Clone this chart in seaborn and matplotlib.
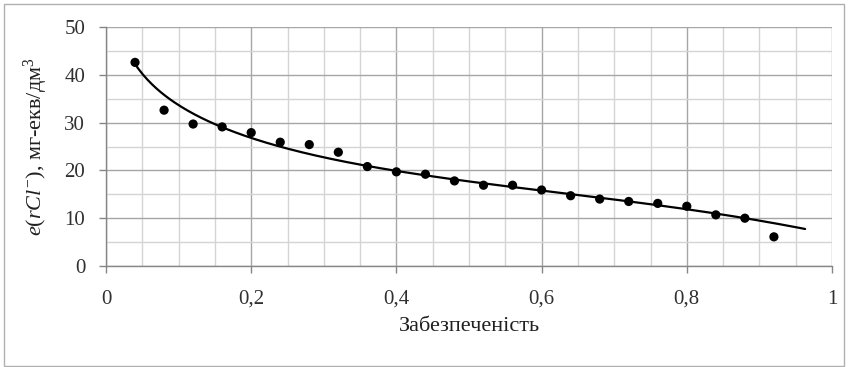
import numpy as np
import pandas as pd
import matplotlib
matplotlib.use("Agg")
import matplotlib.pyplot as plt
import seaborn as sns
from matplotlib.ticker import MultipleLocator, FuncFormatter
from matplotlib.patches import Rectangle

supply = [0.04, 0.08, 0.12, 0.16, 0.20, 0.24, 0.28, 0.32, 0.36, 0.40, 0.44, 0.48,
          0.52, 0.56, 0.60, 0.64, 0.68, 0.72, 0.76, 0.80, 0.84, 0.88, 0.92]
conc = [42.6, 32.6, 29.7, 29.1, 27.9, 25.9, 25.4, 23.8, 20.8, 19.7, 19.2, 17.8,
        16.9, 16.9, 15.9, 14.7, 14.0, 13.5, 13.1, 12.5, 10.7, 10.0, 6.1]
# Trend curve values
trend_x = [0.042, 0.081, 0.120, 0.16, 0.20, 0.24, 0.28, 0.32, 0.36, 0.40, 0.44, 0.48,
           0.52, 0.56, 0.60, 0.64, 0.68, 0.72, 0.76, 0.80, 0.84, 0.88, 0.963]
trend_y = [42.0, 35.4, 31.6, 29.1, 27.0, 25.1, 23.6, 22.3, 20.9, 19.8, 19.0, 17.9,
           16.9, 16.6, 15.9, 14.85, 14.2, 13.5, 13.0, 12.2, 10.9, 10.0, 7.6]
x_ticks = [0, 0.2, 0.4, 0.6, 0.8, 1]
y_ticks = [0, 10, 20, 30, 40, 50]

sns.set_theme(style="white")
plt.rcParams['font.family'] = ['Liberation Serif', 'DejaVu Serif']
plt.rcParams['mathtext.fontset'] = 'custom'
plt.rcParams['mathtext.rm'] = 'Liberation Serif'
plt.rcParams['mathtext.it'] = 'Liberation Serif:italic'

df = pd.DataFrame({"x": supply, "y": conc})
fig = plt.figure(figsize=(8.51, 3.67), dpi=100)
ax = fig.add_axes([106/851, 1-266/367, (832-106)/851, (266-27)/367])


def basis(x):
    x = np.asarray(x, dtype=float)
    return np.column_stack([np.ones_like(x), np.log(x), x, x ** 2, x ** 3])


# smooth least-squares trend through the read curve values
coef, *_ = np.linalg.lstsq(basis(trend_x), np.asarray(trend_y), rcond=None)
xs = np.linspace(trend_x[0], trend_x[-1], 300)
sns.lineplot(x=xs, y=basis(xs) @ coef, ax=ax, color='black', lw=1.6)

sns.scatterplot(data=df, x="x", y="y", ax=ax, color='black', s=44, edgecolor='none', zorder=3)

ax.set_xlim(x_ticks[0], x_ticks[-1])
ax.set_ylim(y_ticks[0], y_ticks[-1])
ax.set_xticks(x_ticks)
ax.set_yticks(y_ticks)
ax.xaxis.set_minor_locator(MultipleLocator(0.05))
ax.yaxis.set_minor_locator(MultipleLocator(5))
ax.grid(True, which='major', color='#a6a6a6', lw=1)
ax.grid(True, which='minor', color='#d4d4d4', lw=1)
ax.set_axisbelow(True)
for s in ['top', 'right']:
    ax.spines[s].set_visible(False)
for s in ['left', 'bottom']:
    ax.spines[s].set_color('#868686')
    ax.spines[s].set_linewidth(1)
ax.tick_params(which='major', length=5, width=1, color='#868686', labelsize=15,
               labelcolor='#303030', direction='out', left=True, bottom=True)
ax.tick_params(axis='y', which='major', pad=10)
ax.tick_params(axis='x', which='major', pad=12)
ax.tick_params(which='minor', length=0)
ax.xaxis.set_major_formatter(FuncFormatter(lambda v, p: ('%g' % v).replace('.', ',')))
ax.set_xlabel('Забезпеченість', fontsize=16, color='#202020', labelpad=6)
ax.set_ylabel(r'$e(rCl^{-})$, мг-екв/дм$^3$', fontsize=16, color='#202020', labelpad=10)
fig.patches.append(Rectangle((4/851, 1-366/367), 840/851, 362/367, transform=fig.transFigure,
                             fill=False, edgecolor='#b0b0b0', lw=1))
fig.savefig('out.png', dpi=100)
